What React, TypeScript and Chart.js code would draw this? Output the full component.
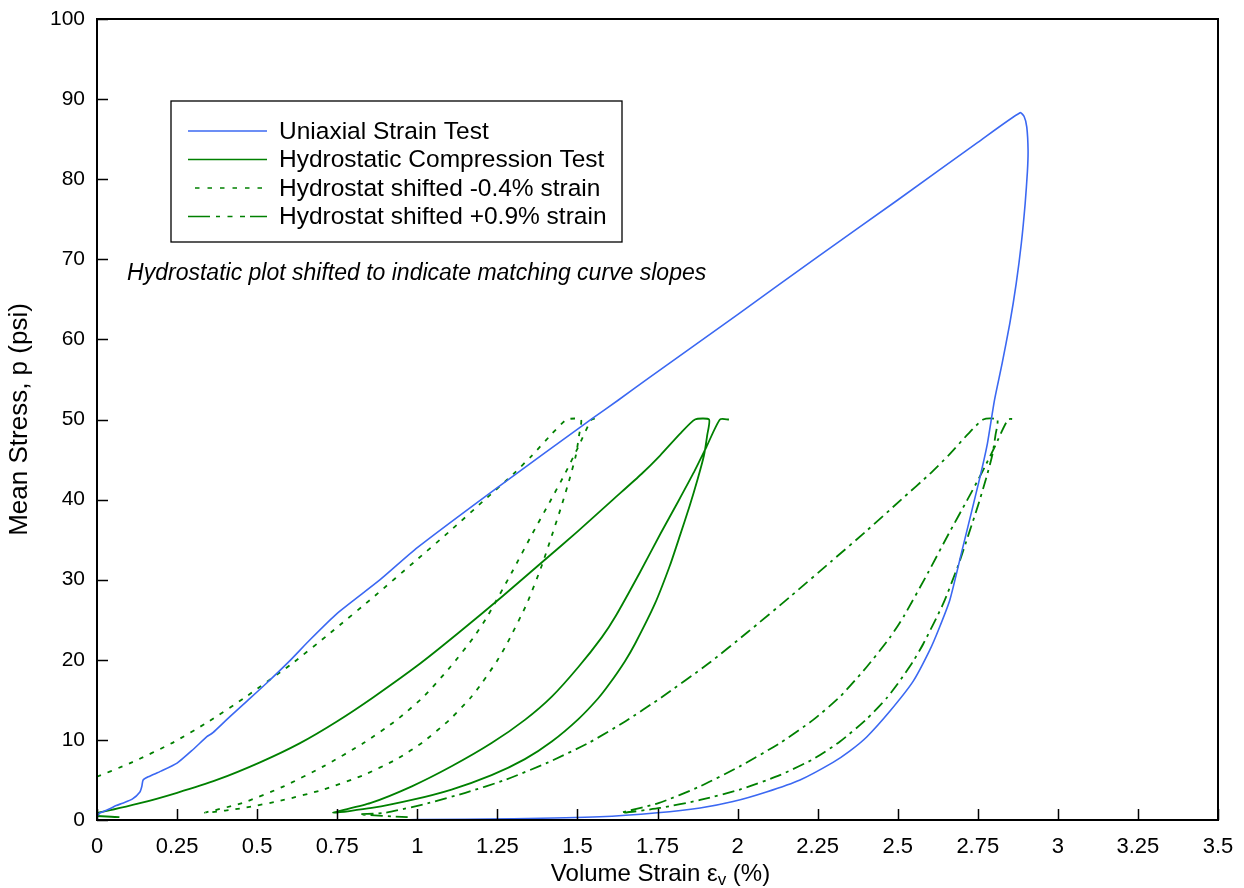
import React, { useEffect, useRef } from "react";
import { Chart, registerables } from "chart.js";

Chart.register(...registerables);

const FONT = '"Liberation Sans", Arial, Helvetica, sans-serif';

// Axis ticks
const xTickValues = [0, 0.25, 0.5, 0.75, 1, 1.25, 1.5, 1.75, 2, 2.25, 2.5, 2.75, 3, 3.25, 3.5];
const yTickValues = [0, 10, 20, 30, 40, 50, 60, 70, 80, 90, 100];

// Uniaxial strain test (blue)
const uniaxialStrain = [
  0, 0.01, 0.04, 0.06, 0.08, 0.11, 0.134, 0.14, 0.144, 0.16, 0.2, 0.25, 0.3, 0.343, 0.355, 0.362,
  0.415, 0.47, 0.53, 0.6, 0.665, 0.75, 0.884, 1.0, 1.25, 1.549, 1.627, 1.72, 2.0, 2.25, 2.5, 2.75,
  2.882, 2.895, 2.903, 2.907, 2.905, 2.898, 2.886, 2.87, 2.85, 2.826, 2.802, 2.78, 2.755, 2.7, 2.663,
  2.63, 2.6, 2.548, 2.476, 2.404, 2.35, 2.298, 2.195, 2.09, 1.986, 1.883, 1.75, 1.57, 1.3, 1.0, 0.95,
];
const uniaxialStress = [
  0.5, 0.9, 1.4, 1.8, 2.1, 2.6, 3.5, 4.2, 5.0, 5.4, 6.1, 7.1, 8.8, 10.4, 10.7, 10.9,
  12.9, 14.9, 17.1, 19.8, 22.5, 25.8, 30.0, 34.0, 41.5, 50.2, 52.4, 55.1, 63.1, 70.3, 77.4, 84.6,
  88.3, 87.8, 86.5, 83.6, 81, 77, 72, 67, 62, 57, 52.4, 47, 42.5, 33.5, 27.5,
  24, 21.2, 17.3, 13.6, 10.4, 8.6, 7.2, 5.0, 3.5, 2.3, 1.5, 0.9, 0.4, 0.15, 0.05, 0,
];

// Hydrostatic compression test (green, solid): load, hold, unload, reload, hold
const hydroStrain = [
  0.07, -0.08, 0, 0.134, 0.25, 0.374, 0.509, 0.634, 0.749, 0.862, 1.008, 1.13, 1.268, 1.393, 1.5,
  1.611, 1.7, 1.758, 1.82, 1.867, 1.911,
  1.905, 1.895, 1.875, 1.851, 1.82, 1.789, 1.742, 1.68, 1.648, 1.6, 1.565, 1.503, 1.42, 1.336,
  1.232, 1.107, 0.983, 0.858, 0.737,
  0.853, 0.983, 1.107, 1.232, 1.336, 1.42, 1.503, 1.576, 1.62, 1.695, 1.76, 1.815, 1.862, 1.903,
  1.945, 1.973,
];
const hydroStress = [
  0.35, 0.7, 0.9, 2.1, 3.4, 5.0, 7.2, 9.6, 12.3, 15.3, 19.5, 23.4, 28.0, 32.3, 36.0,
  40, 43.2, 45.5, 48.2, 50, 50,
  48, 45.5, 42.5, 39.3, 35.5, 31.8, 27.0, 22.0, 19.8, 17.0, 15.2, 12.6, 9.8, 7.6,
  5.6, 3.8, 2.5, 1.5, 0.9,
  2.1, 4.2, 6.7, 9.6, 12.5, 15.4, 19.1, 22.8, 25.5, 30.9, 35.8, 39.8, 43.3, 46.6,
  50, 50,
];

// Strain shifts applied to the hydrostat (from the legend)
const shiftNeg = -0.4;
const shiftPos = 0.9;

const seriesLabels = [
  "Uniaxial Strain Test",
  "Hydrostatic Compression Test",
  "Hydrostat shifted -0.4% strain",
  "Hydrostat shifted +0.9% strain",
];

const BLUE = "#3b68f2";
const GREEN = "#008000";

// legend sample dash patterns (as drawn in the legend key)
const legendDashes = [[], [], [4.5, 8], [22, 6, 4, 7.5, 5, 7.5, 5, 5]];
const legendDashOffsets = [0, 0, -7, 0];

const toPoints = (xs: number[], ys: number[], dx = 0) => xs.map((x, i) => ({ x: x + dx, y: ys[i] }));

const framePlugin = {
  id: "frameTicks",
  afterDatasetsDraw(chart: any) {
    const { ctx, chartArea } = chart;
    const xs = chart.scales.x;
    const ys = chart.scales.y;
    ctx.save();
    ctx.strokeStyle = "#000";
    ctx.lineWidth = 1.5;
    ctx.beginPath();
    xTickValues.forEach((v) => {
      const px = Math.round(xs.getPixelForValue(v)) + 0.5;
      ctx.moveTo(px, chartArea.bottom);
      ctx.lineTo(px, chartArea.bottom - 11);
    });
    yTickValues.forEach((v) => {
      const py = Math.round(ys.getPixelForValue(v)) + 0.5;
      ctx.moveTo(chartArea.left, py);
      ctx.lineTo(chartArea.left + 11, py);
    });
    ctx.stroke();
    ctx.lineWidth = 2;
    ctx.strokeRect(chartArea.left, chartArea.top, chartArea.right - chartArea.left, chartArea.bottom - chartArea.top);
    ctx.restore();
  },
  afterDraw(chart: any) {
    const { ctx, chartArea } = chart;
    const xs = chart.scales.x;
    const ys = chart.scales.y;
    ctx.save();
    // legend box
    const bx = 171, by = 101, bw = 451, bh = 141;
    ctx.fillStyle = "#fff";
    ctx.fillRect(bx, by, bw, bh);
    ctx.strokeStyle = "#000";
    ctx.lineWidth = 1.3;
    ctx.strokeRect(bx, by, bw, bh);
    chart.data.datasets.forEach((ds: any, i: number) => {
      const cy = 131 + i * 28.5;
      ctx.beginPath();
      ctx.setLineDash(legendDashes[i]);
      ctx.lineDashOffset = legendDashOffsets[i];
      ctx.strokeStyle = ds.borderColor;
      ctx.lineWidth = 1.7;
      ctx.moveTo(188, cy);
      ctx.lineTo(267, cy);
      ctx.stroke();
      ctx.setLineDash([]);
      ctx.lineDashOffset = 0;
      ctx.fillStyle = "#000";
      ctx.font = `24.5px ${FONT}`;
      ctx.textBaseline = "middle";
      ctx.textAlign = "left";
      ctx.fillText(ds.label, 279, cy + 1);
    });
    // annotation
    ctx.font = `italic 23px ${FONT}`;
    ctx.textBaseline = "alphabetic";
    ctx.fillStyle = "#000";
    ctx.fillText("Hydrostatic plot shifted to indicate matching curve slopes", xs.getPixelForValue(0.094), ys.getPixelForValue(67.4));
    // x-axis title with subscript
    const cx = (chartArea.left + chartArea.right) / 2 + 3;
    const base = 881;
    const main = "Volume Strain \u03b5";
    const sub = "v";
    const tail = " (%)";
    ctx.font = `24px ${FONT}`;
    const w1 = ctx.measureText(main).width;
    const w3 = ctx.measureText(tail).width;
    ctx.font = `17px ${FONT}`;
    const w2 = ctx.measureText(sub).width;
    const start = cx - (w1 + w2 + w3) / 2;
    ctx.font = `24px ${FONT}`;
    ctx.fillText(main, start, base);
    ctx.font = `17px ${FONT}`;
    ctx.fillText(sub, start + w1, base + 4);
    ctx.font = `24px ${FONT}`;
    ctx.fillText(tail, start + w1 + w2, base);
    ctx.restore();
  },
};

export default function App() {
  const canvasRef = useRef<HTMLCanvasElement | null>(null);

  useEffect(() => {
    if (!canvasRef.current) return;
    const common = { showLine: true, pointRadius: 0, pointHoverRadius: 0, fill: false, tension: 0.2 };
    const chart = new Chart(canvasRef.current, {
      type: "scatter",
      data: {
        datasets: [
          { ...common, label: seriesLabels[0], data: toPoints(uniaxialStrain, uniaxialStress), borderColor: BLUE, borderWidth: 1.6 },
          { ...common, label: seriesLabels[1], data: toPoints(hydroStrain, hydroStress), borderColor: GREEN, borderWidth: 1.8 },
          { ...common, label: seriesLabels[2], data: toPoints(hydroStrain, hydroStress, shiftNeg), borderColor: GREEN, borderWidth: 1.8, borderDash: [4.5, 7] },
          { ...common, label: seriesLabels[3], data: toPoints(hydroStrain, hydroStress, shiftPos), borderColor: GREEN, borderWidth: 1.8, borderDash: [12, 5, 3, 5] },
        ],
      },
      options: {
        animation: false,
        responsive: false,
        layout: { padding: { left: 0, right: 26, top: 19, bottom: 0 } },
        plugins: { legend: { display: false }, tooltip: { enabled: false } },
        scales: {
          x: {
            type: "linear",
            min: 0,
            max: 3.5,
            afterBuildTicks: (s: any) => {
              s.ticks = xTickValues.map((v) => ({ value: v }));
            },
            afterFit: (s: any) => {
              s.height = 68;
              s.paddingLeft = 0;
              s.paddingRight = 0;
            },
            grid: { display: false, drawTicks: false },
            border: { display: false },
            ticks: {
              color: "#000",
              font: { family: FONT, size: 22 },
              padding: 14,
              maxRotation: 0,
              autoSkip: false,
              callback: (v: any) => String(Number(v)),
            },
          },
          y: {
            type: "linear",
            min: 0,
            max: 100,
            afterBuildTicks: (s: any) => {
              s.ticks = yTickValues.map((v) => ({ value: v }));
            },
            afterFit: (s: any) => {
              s.width = 97;
              s.paddingTop = 0;
              s.paddingBottom = 0;
            },
            grid: { display: false, drawTicks: false },
            border: { display: false },
            ticks: {
              color: "#000",
              font: { family: FONT, size: 21 },
              padding: 12,
              autoSkip: false,
              callback: (v: any) => String(Number(v)),
            },
            title: {
              display: true,
              text: "Mean Stress, p (psi)",
              color: "#000",
              font: { family: FONT, size: 26 },
              padding: { top: 4, bottom: 0 },
            },
          },
        },
      },
      plugins: [framePlugin],
    } as any);
    return () => chart.destroy();
  }, []);

  return (
    <div style={{ position: "absolute", left: 0, top: 0, width: 1244, height: 888, background: "#fff" }}>
      <canvas ref={canvasRef} width={1244} height={888} style={{ width: 1244, height: 888, display: "block" }} />
    </div>
  );
}
